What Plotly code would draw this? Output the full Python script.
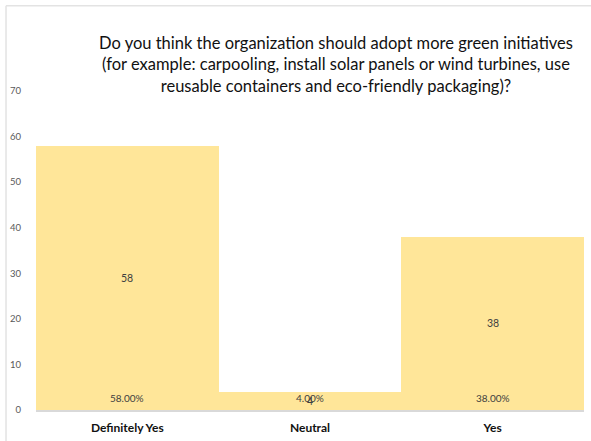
import plotly.graph_objects as go

# Survey responses
categories = ["Definitely Yes", "Neutral", "Yes"]
counts = [58, 4, 38]
percent_labels = ["58.00%", "4.00%", "38.00%"]
y_ticks = [0, 10, 20, 30, 40, 50, 60, 70]

title_text = ("Do you think the organization should adopt more green initiatives<br>"
              "(for example: carpooling, install solar panels or wind turbines, use<br>"
              "reusable containers and eco-friendly packaging)?")

BAR = "#FFE699"
LABEL = "#404040"

fig = go.Figure()
fig.add_trace(go.Bar(
    x=categories, y=counts,
    marker=dict(color=BAR, line=dict(width=0)),
    hoverinfo="skip",
))

# count labels at bar mid-height
for c, v in zip(categories, counts):
    fig.add_annotation(x=c, y=v / 2, text=str(v), showarrow=False,
                       font=dict(family="Lato", size=10.5, color=LABEL))

# percentage labels near the base of each bar
for c, p in zip(categories, percent_labels):
    fig.add_annotation(x=c, y=2.6, text=p, showarrow=False,
                       font=dict(family="Lato", size=10, color=LABEL))

# frame lines (top and left) around the chart
fig.add_shape(type="line", xref="paper", yref="paper",
              x0=-0.0547, x1=1.02, y0=1.2676, y1=1.2676,
              line=dict(color="#E3E3E3", width=1.5))
fig.add_shape(type="line", xref="paper", yref="paper",
              x0=-0.0547, x1=-0.0547, y0=1.2676, y1=-0.12,
              line=dict(color="#E3E3E3", width=1.5))

fig.update_layout(
    width=591, height=441,
    margin=dict(l=36, r=7, t=91, b=31, autoexpand=False),
    paper_bgcolor="white", plot_bgcolor="white",
    bargap=0,
    showlegend=False,
    title=dict(text=title_text, x=336 / 591, xanchor="center",
               y=1 - 49 / 441, yanchor="top", yref="container",
               font=dict(family="Lato", size=16.5, color="#111111")),
    xaxis=dict(showline=True, linecolor="#D9D9D9", linewidth=1.5,
               showgrid=False, ticks="", ticklabelstandoff=6, automargin=False,
               tickfont=dict(family="Lato", size=12, color="#111111", weight="bold")),
    yaxis=dict(range=[0, 70], tickvals=y_ticks, showgrid=False,
               zeroline=False, showline=False, ticks="", automargin=False,
               ticklabelstandoff=14,
               tickfont=dict(family="Lato", size=9.5, color="#595959")),
)

fig.write_html("out.html")
